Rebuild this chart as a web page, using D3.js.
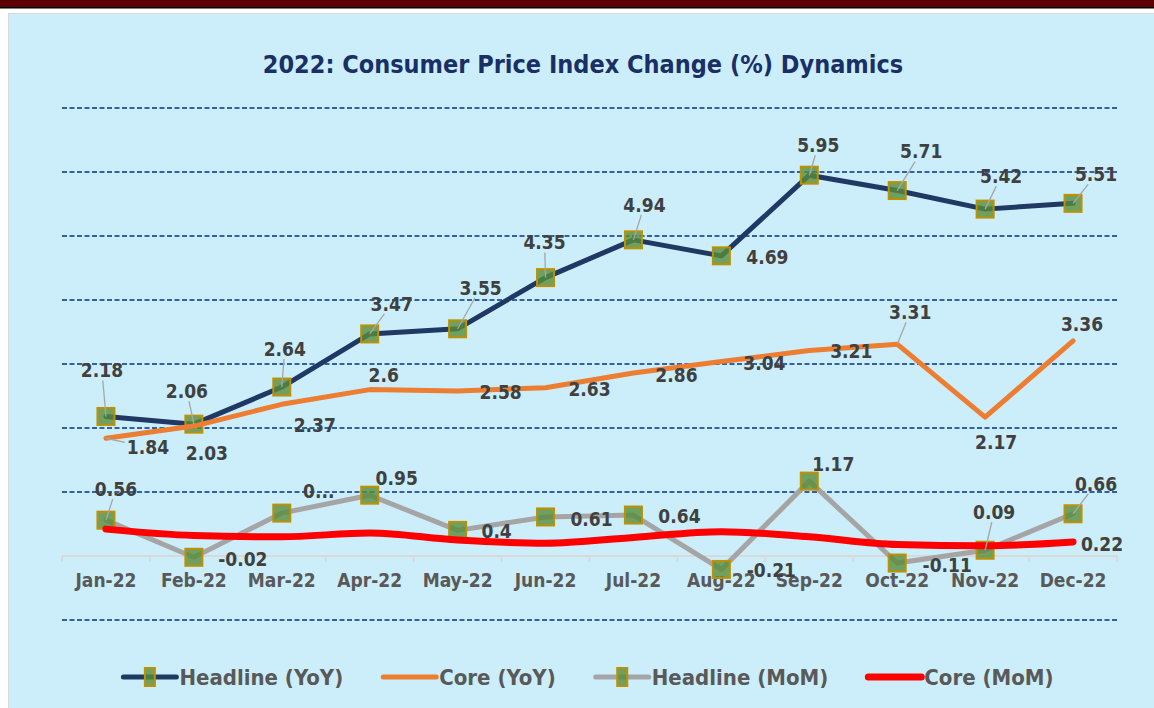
<!DOCTYPE html>
<html>
<head>
<meta charset="utf-8">
<script src="https://cdn.jsdelivr.net/npm/d3@7"></script>
<style>
  html, body { margin: 0; padding: 0; background: #ffffff; }
  svg { display: block; }
  text { font-family: 'DejaVu Sans Condensed', 'DejaVu Sans', sans-serif; font-stretch: condensed; font-weight: bold; }
</style>
</head>
<body>
<svg id="chart" width="1154" height="708"></svg>
<script>
// ---------------- DATA ----------------
const months = ["Jan-22","Feb-22","Mar-22","Apr-22","May-22","Jun-22","Jul-22","Aug-22","Sep-22","Oct-22","Nov-22","Dec-22"];
const headlineYoY = [2.18, 2.06, 2.64, 3.47, 3.55, 4.35, 4.94, 4.69, 5.95, 5.71, 5.42, 5.51];
const coreYoY     = [1.84, 2.03, 2.37, 2.6, 2.58, 2.63, 2.86, 3.04, 3.21, 3.31, 2.17, 3.36];
const headlineMoM = [0.56, -0.02, 0.67, 0.95, 0.4, 0.61, 0.64, -0.21, 1.17, -0.11, 0.09, 0.66];
const coreMoM     = [0.42, 0.32, 0.30, 0.36, 0.25, 0.20, 0.29, 0.38, 0.30, 0.18, 0.16, 0.22];
const headlineMoMLabels = ["0.56","-0.02","0...","0.95","0.4","0.61","0.64","-0.21","1.17","-0.11","0.09","0.66"];
const coreMoMLabels = [null,null,null,null,null,null,null,null,null,null,null,"0.22"];
const yTicks = [-1, 1, 2, 3, 4, 5, 6, 7];
const seriesNames = ["Headline (YoY)", "Core (YoY)", "Headline (MoM)", "Core (MoM)"];
const chartTitle = "2022: Consumer Price Index Change (%) Dynamics";

// ---------------- LAYOUT (label placement offsets, px) ----------------
const hYoYOff = [[-4,-46,1],[-7,-33,1],[3,-38,1],[22,-30,1],[23,-41,1],[-1,-35,1],[11,-35,1],[46,1,0],[9,-30,1],[24,-39,1],[16,-33,1],[23,-29,1]];
const cYoYOff = [[42,9,1],[13,27,0],[33,21,0],[14,-14,0],[43,1,0],[44,1,0],[43,2,0],[43,2,0],[42,1,0],[13,-32,1],[11,25,0],[9,-17,0]];
const hMoMOff = [[10,-31,1],[49,2,0],[37,-22,0],[27,-17,0],[39,1,0],[46,2,0],[46,1,0],[50,1,0],[24,-17,0],[50,2,0],[9,-38,1],[23,-30,1]];
const cMoMOff = [null,null,null,null,null,null,null,null,null,null,null,[29,2,0]];

const svg = d3.select("#chart");
const W = 1154, H = 708;

// header bars
svg.append("rect").attr("x",0).attr("y",0).attr("width",W).attr("height",7).attr("fill","#5C0000");
svg.append("rect").attr("x",0).attr("y",7).attr("width",W).attr("height",1.5).attr("fill","#000000");
// panel
svg.append("rect").attr("x",8.5).attr("y",13.5).attr("width",W).attr("height",H)
  .attr("fill","#CBEEFA").attr("stroke","#D9D9D9").attr("stroke-width",1);

// title
svg.append("text").attr("x",583).attr("y",73).attr("text-anchor","middle")
  .attr("font-size",25).attr("fill","#1A2F66").text(chartTitle);

// scales
const x = d3.scaleBand().domain(months).range([62, 1117]).padding(0);
const cx = m => x(m) + x.bandwidth()/2;
const y = d3.scaleLinear().domain([-1, 7]).range([620, 108]);

// gridlines
svg.append("g").selectAll("line").data(yTicks).join("line")
  .attr("x1",62).attr("x2",1117)
  .attr("y1",d=>y(d)).attr("y2",d=>y(d))
  .attr("stroke","#3460AA").attr("stroke-width",1.8).attr("stroke-dasharray","5,2.5");

// x axis
const axis = d3.axisBottom(x).tickSize(0).tickPadding(0);
const ax = svg.append("g").attr("transform",`translate(0,${y(0)})`).call(axis);
ax.select(".domain").remove();
ax.selectAll("text").attr("font-size",19).attr("fill","#595959").attr("dy",null).attr("y",31)
  .style("font-family","'DejaVu Sans Condensed', 'DejaVu Sans', sans-serif").style("font-weight","bold");
svg.append("line").attr("x1",62).attr("x2",1117).attr("y1",y(0)).attr("y2",y(0))
  .attr("stroke","#D9D9D9").attr("stroke-width",2);
const bounds = months.map(m=>x(m)).concat([x(months[11])+x.bandwidth()]);
svg.append("g").selectAll("line").data(bounds).join("line")
  .attr("x1",d=>d).attr("x2",d=>d).attr("y1",y(0)).attr("y2",y(0)+6)
  .attr("stroke","#D9D9D9").attr("stroke-width",2);

// series
const series = [
  {vals: headlineYoY, color:"#1F3864", width:5, marker:true, curve:d3.curveLinear, off:hYoYOff, labels: headlineYoY.map(String)},
  {vals: coreYoY, color:"#ED7D31", width:5, marker:false, curve:d3.curveLinear, off:cYoYOff, labels: coreYoY.map(String)},
  {vals: headlineMoM, color:"#A5A5A5", width:5, marker:true, curve:d3.curveLinear, off:hMoMOff, labels: headlineMoMLabels},
  {vals: coreMoM, color:"#FF0000", width:7, marker:false, curve:d3.curveMonotoneX, off:cMoMOff, labels: coreMoMLabels}
];

function drawMarkers(g, pts, size){
  g.selectAll("rect.mk").data(pts).join("rect").attr("class","mk")
    .attr("x",p=>p[0]-size/2).attr("y",p=>p[1]-size/2).attr("width",size).attr("height",size)
    .attr("fill","#598C39").attr("fill-opacity",0.8)
    .attr("stroke","#BF9000").attr("stroke-width",2);
}

series.forEach(s=>{
  const g = svg.append("g");
  const pts = s.vals.map((v,i)=>[cx(months[i]), y(v)]);
  g.append("path").attr("d", d3.line().curve(s.curve)(pts))
    .attr("fill","none").attr("stroke",s.color).attr("stroke-width",s.width)
    .attr("stroke-linecap","round").attr("stroke-linejoin","round");
  if (s.marker) drawMarkers(g, pts, 17);
  s.pts = pts;
});

// data labels + leader lines
const lg = svg.append("g");
series.forEach(s=>{
  s.pts.forEach((p,i)=>{
    const o = s.off[i];
    const t = s.labels[i];
    if (!o || t==null) return;
    const lx = p[0]+o[0], ly = p[1]+o[1];
    const txt = lg.append("text").attr("x",lx).attr("y",ly).attr("dy","0.36em")
      .attr("text-anchor","middle").attr("font-size",19).attr("fill","#404040").text(t);
    if (o[2]) {
      const w = txt.node().getComputedTextLength();
      const hw = w/2 + 2, hh = 10;
      const dx = p[0]-lx, dy = p[1]-ly;
      const tt = Math.min(Math.abs(dx)>0 ? hw/Math.abs(dx) : Infinity, Math.abs(dy)>0 ? hh/Math.abs(dy) : Infinity);
      const sx = lx + dx*tt, sy = ly + dy*tt;
      lg.insert("line","text").attr("x1",sx).attr("y1",sy).attr("x2",p[0]).attr("y2",p[1])
        .attr("stroke","#A6A6A6").attr("stroke-width",1.3);
    }
  });
});

// legend
const legY = 677;
const leg = svg.append("g");
const items = [];
let cur = 0;
seriesNames.forEach((name,i)=>{
  const s = series[i];
  const gi = leg.append("g");
  gi.append("line").attr("x1",0).attr("x2",53).attr("y1",legY).attr("y2",legY)
    .attr("stroke",s.color).attr("stroke-width",s.width).attr("stroke-linecap","round");
  if (s.marker) {
    gi.append("rect").attr("x",26.5-5).attr("y",legY-9).attr("width",10).attr("height",18)
      .attr("fill","#598C39").attr("fill-opacity",0.8).attr("stroke","#BF9000").attr("stroke-width",2);
  }
  const tx = gi.append("text").attr("x",56).attr("y",legY).attr("dy","0.36em")
    .attr("font-size",22).attr("fill","#595959").text(name);
  const w = 56 + tx.node().getComputedTextLength();
  items.push({gi, x: cur});
  cur += w + 40;
});
const total = cur - 40;
const startX = 588.5 - total/2;
items.forEach(it=> it.gi.attr("transform",`translate(${startX+it.x},0)`));
</script>
</body>
</html>
